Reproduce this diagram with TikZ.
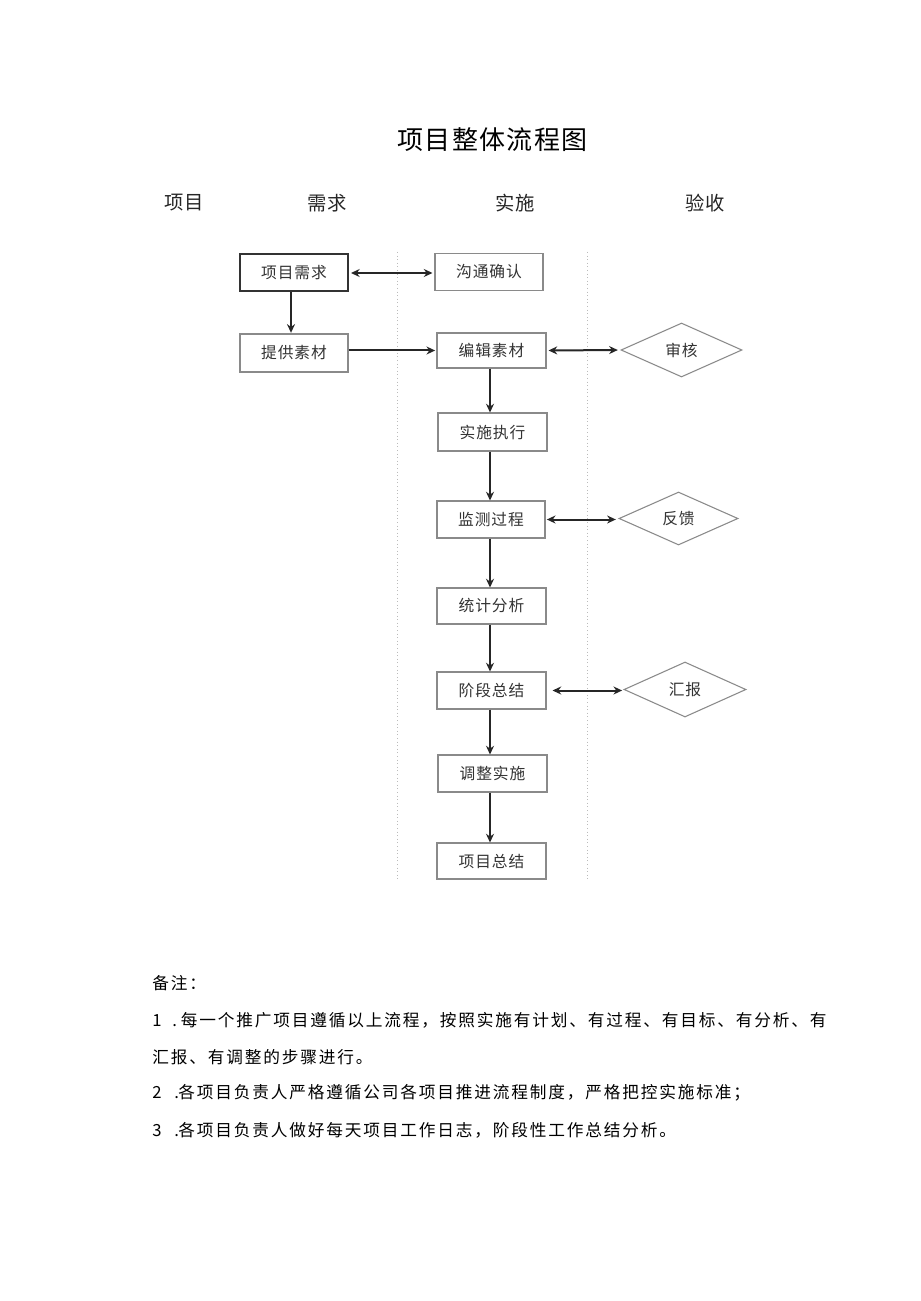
\documentclass[tikz,border=0pt]{standalone}
\usepackage{fontspec}
\setmainfont{Noto Sans CJK SC}
\newfontfamily\notefont[LetterSpace=11]{Noto Sans CJK SC}
\newfontfamily\boxfont[LetterSpace=6]{Noto Sans CJK SC}
\newfontfamily\titlefont[LetterSpace=5]{Noto Sans CJK SC}
\usetikzlibrary{arrows.meta,shapes.geometric}
\definecolor{boxgray}{HTML}{8A8A8A}
\definecolor{textgray}{HTML}{333333}
\definecolor{linegray}{HTML}{BBBBBB}
\begin{document}
\begin{tikzpicture}[x=0.75pt,y=-0.75pt,
  box/.style={draw=boxgray, line width=0.8pt, rectangle, minimum width=108*0.75pt,
    minimum height=37*0.75pt, inner sep=0pt, text=textgray,
    font=\boxfont\fontsize{11.8pt}{13pt}\selectfont},
  mainbox/.style={box, draw=black!80, line width=1.5pt},
  dia/.style={draw=boxgray, line width=0.8pt, shape=diamond, inner sep=0pt,
    minimum width=121*0.75pt, minimum height=54*0.75pt, text=textgray,
    font=\boxfont\fontsize{11.8pt}{13pt}\selectfont},
  arr/.style={line width=1.5pt, black!85, -{Stealth[length=6.5pt,width=6pt]}},
  darr/.style={line width=1.5pt, black!85, {Stealth[length=6.5pt,width=6pt]}-{Stealth[length=6.5pt,width=6pt]}},
  lane/.style={draw=linegray, dotted, line width=0.7pt},
  hdr/.style={font=\fontsize{14.5pt}{16pt}\selectfont, text=black!85},
  note/.style={anchor=west, inner sep=0pt, font=\notefont\fontsize{12.5pt}{14pt}\selectfont}
]
\fill[white] (0,0) rectangle (920,1301);
\useasboundingbox (0,0) rectangle (920,1301);

% title and headers
\node[font=\titlefont\fontsize{19.5pt}{22pt}\selectfont] (title) at (492.5,140) {项目整体流程图};
\node[hdr] (h1) at (184,203) {项目};
\node[hdr] (h2) at (327,203) {需求};
\node[hdr] (h3) at (515,203) {实施};
\node[hdr] (h4) at (705,203) {验收};

% lanes
\coordinate (l1t) at (397,252); \coordinate (l1b) at (397,880);
\coordinate (l2t) at (587,252); \coordinate (l2b) at (587,880);
\draw[lane] (l1t) -- (l1b);
\draw[lane] (l2t) -- (l2b);

% nodes
\node[mainbox] (a1) at (294,273) {项目需求};
\node[box] (b1) at (489,272) {沟通确认};
\node[box, minimum height=38*0.75pt] (a2) at (294,353) {提供素材};
\node[box, minimum width=109*0.75pt, minimum height=35*0.75pt] (b2) at (491.5,350.5) {编辑素材};
\node[dia] (d1) at (681.5,350) {审核};
\node[box, minimum width=109*0.75pt, minimum height=38*0.75pt] (b3) at (492.5,432) {实施执行};
\node[box] (b4) at (491,519.5) {监测过程};
\node[dia, minimum width=119*0.75pt, minimum height=53*0.75pt] (d2) at (678.5,518.5) {反馈};
\node[box, minimum width=109*0.75pt, minimum height=36*0.75pt] (b5) at (491.5,606) {统计分析};
\node[box, minimum width=109*0.75pt] (b6) at (491.5,690.5) {阶段总结};
\node[dia, minimum width=122*0.75pt, minimum height=55*0.75pt] (d3) at (685,689.5) {汇报};
\node[box, minimum width=109*0.75pt] (b7) at (492.5,773.5) {调整实施};
\node[box, minimum width=109*0.75pt, minimum height=36*0.75pt] (b8) at (491.5,861) {项目总结};

% vertical guide for the centre column arrows
\coordinate (cx) at (490,0);
\coordinate (ax) at (291,0);

% connectors
\draw[darr, shorten <=1.5pt, shorten >=1.5pt] (a1.east) -- (b1.west |- a1.east);
\draw[arr, shorten >=0.5pt] (a1.south -| ax) -- (a2.north -| ax);
\draw[arr, shorten >=1pt] (a2.east |- b2.west) -- (b2.west);
\draw[darr, shorten <=1.5pt, shorten >=2pt] (b2.east) -- (d1.west);
\draw[arr] (b2.south -| cx) -- (b3.north -| cx);
\draw[arr] (b3.south -| cx) -- (b4.north -| cx);
\draw[darr, shorten <=1pt, shorten >=2pt] (b4.east) -- (d2.west |- b4.east);
\draw[arr] (b4.south -| cx) -- (b5.north -| cx);
\draw[arr] (b5.south -| cx) -- (b6.north -| cx);
\draw[darr, shorten <=4.5pt, shorten >=1pt] (b6.east) -- (d3.west |- b6.east);
\draw[arr] (b6.south -| cx) -- (b7.north -| cx);
\draw[arr] (b7.south -| cx) -- (b8.north -| cx);

% notes
\node[note] (n0) at (152,983) {备注：};
\node[note] (n1) at (152,1020) {\makebox[15pt][l]{1}\makebox[6.5pt][l]{.}每一个推广项目遵循以上流程，按照实施有计划、有过程、有目标、有分析、有};
\node[note] (n2) at (152,1057) {汇报、有调整的步骤进行。};
\node[note] (n3) at (152,1093) {\makebox[16.5pt][l]{2}\makebox[3pt][l]{.}各项目负责人严格遵循公司各项目推进流程制度，严格把控实施标准；};
\node[note] (n4) at (152,1130) {\makebox[16.5pt][l]{3}\makebox[3pt][l]{.}各项目负责人做好每天项目工作日志，阶段性工作总结分析。};
\end{tikzpicture}
\end{document}
